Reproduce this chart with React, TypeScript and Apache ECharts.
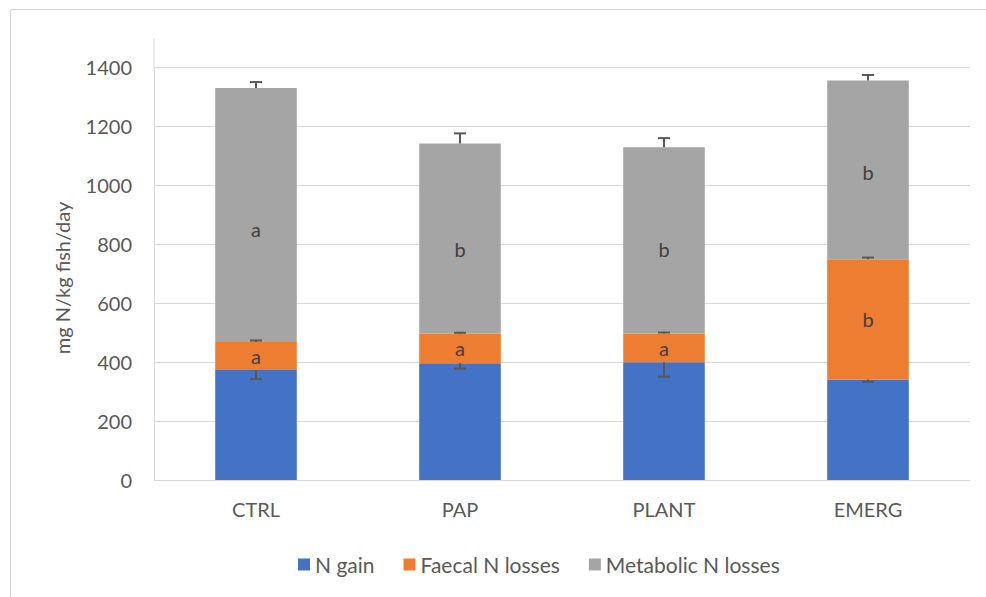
import React, { useEffect, useRef } from "react";
import * as echarts from "echarts";

const categories = ["CTRL", "PAP", "PLANT", "EMERG"];
const nGain = [373, 396, 399, 341];
const faecal = [95, 101, 98, 407];
const metabolic = [861, 644, 631, 606];
const nGainErr = [31, 18, 49, 8];
const faecalErr = [5, 2, 3, 6];
const metabolicErr = [20, 34, 31, 19];
const faecalLetters = ["a", "a", "a", "b"];
const metabolicLetters = ["a", "b", "b", "b"];
const yTicks = [0, 200, 400, 600, 800, 1000, 1200, 1400];

// vertical nudges (px) for the significance letters in the metabolic segment
const metabolicLabelNudge = [14, 11, 9, 2];

const FONT = "Lato, 'Open Sans', sans-serif";

export default function App() {
  const ref = useRef<HTMLDivElement>(null);

  useEffect(() => {
    document.body.style.margin = "0";
    if (!ref.current) return;
    const chart = echarts.init(ref.current, null, { renderer: "svg" });

    const faecalTop = nGain.map((v, i) => v + faecal[i]);
    const metabolicTop = faecalTop.map((v, i) => v + metabolic[i]);

    // error bar segments: [category, from, to]
    const errData: number[][] = [];
    categories.forEach((_, i) => {
      errData.push([i, nGain[i], nGain[i] - nGainErr[i]]);
      errData.push([i, faecalTop[i], faecalTop[i] + faecalErr[i]]);
      errData.push([i, metabolicTop[i], metabolicTop[i] + metabolicErr[i]]);
    });

    const labelStyle = {
      show: true,
      position: "inside",
      color: "#404040",
      fontSize: 20,
      fontFamily: FONT,
    };

    chart.setOption({
      animation: false,
      backgroundColor: "#ffffff",
      textStyle: { fontFamily: FONT },
      grid: { left: 154, right: 16, top: 67, bottom: 117 },
      legend: {
        data: ["N gain", "Faecal N losses", "Metabolic N losses"],
        left: 293,
        top: 549,
        itemWidth: 12,
        itemHeight: 12,
        itemGap: 29,
        icon: "rect",
        textStyle: { color: "#595959", fontSize: 21, fontFamily: FONT },
      },
      xAxis: {
        type: "category",
        data: categories,
        axisLine: { show: true, lineStyle: { color: "#d9d9d9", width: 1 } },
        axisTick: { show: false },
        axisLabel: { color: "#595959", fontSize: 20, fontFamily: FONT, margin: 19 },
      },
      yAxis: {
        type: "value",
        min: 0,
        max: 1400,
        interval: 200,
        axisLine: { show: true, lineStyle: { color: "#d9d9d9", width: 1 } },
        axisTick: { show: false },
        axisLabel: {
          color: "#595959",
          fontSize: 20,
          fontFamily: FONT,
          margin: 22,
          formatter: (v: number) => (yTicks.includes(v) ? String(v) : ""),
        },
        splitLine: { lineStyle: { color: "#d9d9d9", width: 1 } },
      },
      graphic: [
        {
          type: "rect",
          shape: { x: 10.5, y: 9.5, width: 1100, height: 1000 },
          style: { fill: "none", stroke: "#d9d9d9", lineWidth: 1 },
          silent: true,
        },
        {
          type: "line",
          shape: { x1: 154, y1: 38, x2: 154, y2: 67 },
          style: { stroke: "#d9d9d9", lineWidth: 1 },
          silent: true,
        },
        {
          type: "text",
          x: 62,
          y: 278,
          rotation: Math.PI / 2,
          style: {
            text: "mg N/kg fish/day",
            fill: "#595959",
            fontSize: 20,
            fontFamily: FONT,
            align: "center",
            verticalAlign: "middle",
          },
          silent: true,
        },
      ],
      series: [
        {
          name: "N gain",
          type: "bar",
          stack: "total",
          barWidth: "40%",
          data: nGain,
          itemStyle: { color: "#4472C4" },
        },
        {
          name: "Faecal N losses",
          type: "bar",
          stack: "total",
          data: faecal,
          itemStyle: { color: "#ED7D31" },
          label: { ...labelStyle, formatter: (p: any) => faecalLetters[p.dataIndex] },
        },
        {
          name: "Metabolic N losses",
          type: "bar",
          stack: "total",
          data: metabolic.map((v, i) => ({
            value: v,
            label: { offset: [0, metabolicLabelNudge[i]] },
          })),
          itemStyle: { color: "#A5A5A5" },
          label: { ...labelStyle, formatter: (p: any) => metabolicLetters[p.dataIndex] },
        },
        {
          name: "error",
          type: "custom",
          z: 10,
          data: errData,
          encode: { x: 0, y: [1, 2] },
          renderItem: (_params: any, api: any) => {
            const p0 = api.coord([api.value(0), api.value(1)]);
            const p1 = api.coord([api.value(0), api.value(2)]);
            const style = { stroke: "#595959", lineWidth: 2 };
            return {
              type: "group",
              children: [
                { type: "line", shape: { x1: p0[0], y1: p0[1], x2: p1[0], y2: p1[1] }, style },
                { type: "line", shape: { x1: p1[0] - 6, y1: p1[1], x2: p1[0] + 6, y2: p1[1] }, style },
              ],
            };
          },
        },
      ],
    });

    return () => chart.dispose();
  }, []);

  return <div ref={ref} style={{ width: 986, height: 597 }} />;
}
